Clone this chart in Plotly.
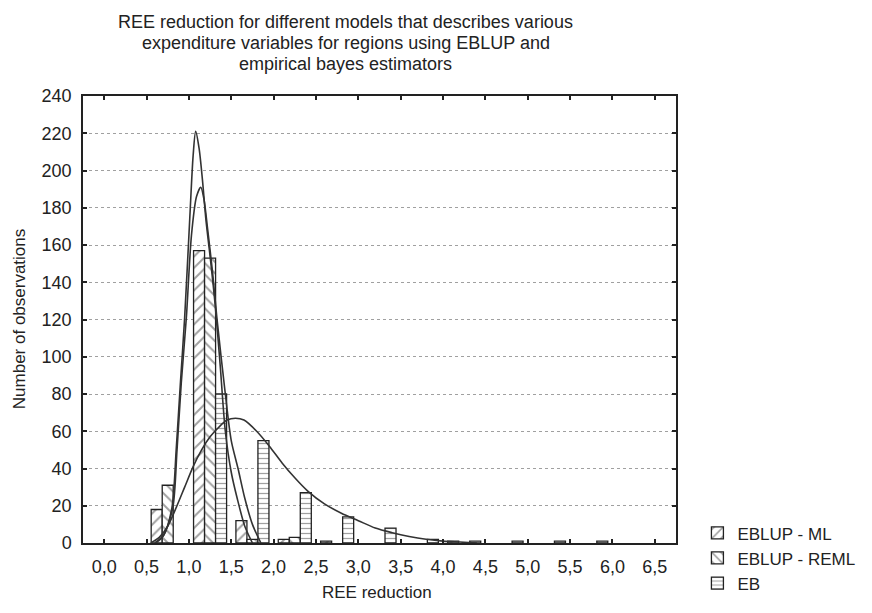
import plotly.graph_objects as go

# ---- data ----
bin_centers = [0.75, 1.25, 1.75, 2.25, 2.75, 3.25, 3.75, 4.25, 4.75, 5.25, 5.75, 6.25]
ml_counts   = [18, 157, 12, 2, 1, None, None, 1, None, None, None, None]
reml_counts = [31, 153, 2, 3, None, None, None, None, None, None, None, None]
eb_counts   = [None, 80, 55, 27, 14, 8, 2, 1, 1, 1, 1, None]

ml_curve_x = [0.60, 0.70, 0.80, 0.85, 0.90, 0.95, 1.01, 1.05, 1.08, 1.12, 1.16, 1.20, 1.26, 1.31, 1.37, 1.43, 1.50, 1.57, 1.66, 1.75]
ml_curve_y = [0, 4, 19, 50, 86, 121, 174, 208, 221, 212, 195, 174, 150, 128, 95, 60, 38, 24, 9, 0]

reml_curve_x = [0.60, 0.70, 0.81, 0.86, 0.91, 0.97, 1.03, 1.09, 1.14, 1.18, 1.22, 1.28, 1.33, 1.43, 1.50, 1.58, 1.66, 1.75, 1.85]
reml_curve_y = [0, 4, 19, 50, 86, 121, 165, 186, 191, 184, 169, 145, 121, 80, 55, 40, 24, 10, 0]

eb_curve_x = [0.55, 0.65, 0.75, 0.85, 0.95, 1.05, 1.15, 1.25, 1.35, 1.45, 1.55, 1.65, 1.80, 1.95, 2.10, 2.25, 2.40, 2.60, 2.80, 3.00, 3.20, 3.40, 3.60, 3.80, 4.00, 4.20, 4.40]
eb_curve_y = [0, 3, 9, 19, 30, 41, 50, 57, 62, 66, 67, 66, 60, 52, 43, 35, 28, 21, 16, 12, 8, 5.5, 3.5, 2, 1, 0.5, 0]

x_ticks = [0.0, 0.5, 1.0, 1.5, 2.0, 2.5, 3.0, 3.5, 4.0, 4.5, 5.0, 5.5, 6.0, 6.5]
x_tick_labels = ["0,0", "0,5", "1,0", "1,5", "2,0", "2,5", "3,0", "3,5", "4,0", "4,5", "5,0", "5,5", "6,0", "6,5"]
y_ticks = [0, 20, 40, 60, 80, 100, 120, 140, 160, 180, 200, 220, 240]

title_lines = [
    "REE reduction for different models that describes various",
    "expenditure variables for regions using EBLUP and",
    "empirical bayes estimators",
]

FONT = "Liberation Sans, Arial, sans-serif"
DARK = "#333333"

# plot area in pixels
L, R, T, B = 83, 180, 96, 65
W, H = 872, 613
PW, PH = W - L - R, H - T - B

def px_x(x):
    return (x - L) / PW

def px_y(y):
    return (H - B - y) / PH

fig = go.Figure()

def bar(name, y, shape, size):
    return go.Bar(
        x=bin_centers, y=y, name=name,
        marker=dict(
            color="white",
            line=dict(color="#222222", width=1.3),
            pattern=dict(shape=shape, fgcolor="#444444", bgcolor="white", size=size, solidity=0.25),
        ),
    )

fig.add_trace(bar("EBLUP - ML", ml_counts, "/", 8))
fig.add_trace(bar("EBLUP - REML", reml_counts, "\\", 8))
fig.add_trace(bar("EB", eb_counts, "-", 5))

for cx, cy in [(ml_curve_x, ml_curve_y), (reml_curve_x, reml_curve_y), (eb_curve_x, eb_curve_y)]:
    fig.add_trace(go.Scatter(x=cx, y=cy, mode="lines", showlegend=False, hoverinfo="skip",
                             line=dict(color=DARK, width=1.6, shape="spline", smoothing=0.8)))

annotations = []
for i, line in enumerate(title_lines):
    annotations.append(dict(text=line, xref="paper", yref="paper", x=px_x(353), y=px_y(21 + 21.5 * i),
                            xanchor="center", yanchor="middle", showarrow=False,
                            font=dict(size=18)))
annotations.append(dict(text="REE reduction", xref="paper", yref="paper", x=px_x(385), y=px_y(598),
                        xanchor="center", yanchor="middle", showarrow=False, font=dict(size=17)))
annotations.append(dict(text="Number of observations", xref="paper", yref="paper", x=px_x(18), y=px_y(322),
                        xanchor="center", yanchor="middle", textangle=-90, showarrow=False, font=dict(size=17)))

fig.update_layout(
    width=W, height=H,
    margin=dict(l=L, r=R, t=T, b=B),
    paper_bgcolor="white", plot_bgcolor="white",
    barmode="group", bargap=0.22, bargroupgap=0,
    font=dict(family=FONT, size=17, color="#222222"),
    showlegend=True,
    legend=dict(x=px_x(714), y=px_y(520), xanchor="left", yanchor="top", bgcolor="rgba(0,0,0,0)",
                font=dict(size=17), tracegroupgap=0),
    xaxis=dict(range=[-0.25, 6.75], tickvals=x_ticks, ticktext=x_tick_labels,
               ticks="inside", ticklen=4, tickcolor="#222222", tickwidth=1.5,
               showline=True, linecolor="#222222", linewidth=1.5, mirror="ticks",
               showgrid=False, zeroline=False, tickfont=dict(size=18), ticklabelstandoff=7),
    yaxis=dict(range=[0, 240], tickvals=y_ticks,
               ticks="inside", ticklen=4, tickcolor="#222222", tickwidth=1.5,
               showline=True, linecolor="#222222", linewidth=1.5, mirror="ticks",
               showgrid=True, gridcolor="#a0a0a0", griddash="dot", gridwidth=1,
               zeroline=False, tickfont=dict(size=18), ticklabelstandoff=6),
    annotations=annotations,
)

fig.write_html("out.html")
